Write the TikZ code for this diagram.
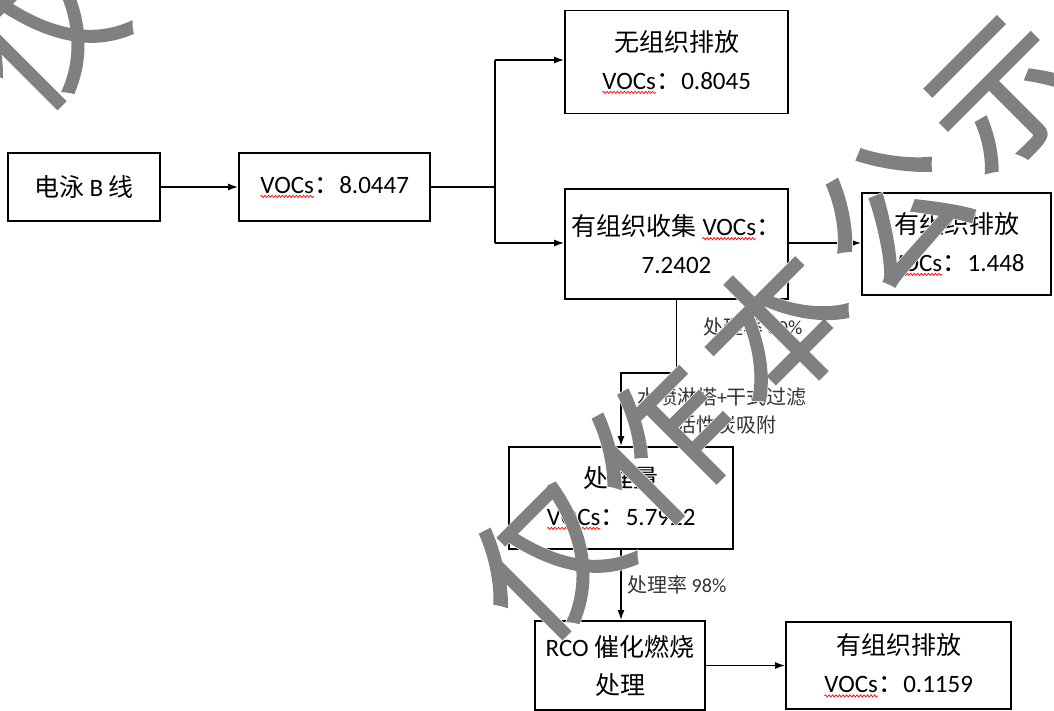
\documentclass[tikz,border=0pt]{standalone}
\usepackage{fontspec}
\setmainfont{Carlito}
\newfontfamily\cjk{Noto Sans CJK SC}
\newfontfamily\wmfont[FakeBold=1.5]{Noto Sans CJK SC}
\newfontfamily\wmhalo[FakeBold=2.4]{Noto Sans CJK SC}
\usetikzlibrary{arrows.meta,decorations.pathmorphing}
\newcommand\wavy[1]{\tikz[baseline=(w.base), x=1cm, y=1cm]{%
  \node[inner sep=0pt, outer sep=0pt, draw=none, minimum width=0pt, minimum height=0pt, rotate=0] (w) {#1};
  \draw[red, line width=0.7pt, -, decorate, decoration={snake, amplitude=1.1pt, segment length=3.5pt}]
    ([yshift=-3pt]w.south west) -- ([yshift=-3pt]w.south east);}}

\begin{document}
\begin{tikzpicture}[x=1pt,y=-1pt,
bx/.style={draw, line width=1.6pt, align=center, inner sep=0pt, font=\fontsize{25}{38}\selectfont},
lb/.style={text=black!80, align=center, inner sep=0pt, font=\fontsize{20}{28}\selectfont},
wm/.style={text=black!50, rotate=45, inner sep=0pt, font=\wmfont\fontsize{145}{145}\selectfont},
wmh/.style={wm, text=white, font=\wmhalo\fontsize{145}{145}\selectfont},
ar/.style={-{Latex[length=10pt,width=7pt]}, line width=1.6pt},
]
\useasboundingbox (0,0) rectangle (1054,711);
% boxes
\node[bx, minimum width=152, minimum height=68] (line) at (84,187) {{\cjk 电泳} B {\cjk 线}};
\node[bx, minimum width=191, minimum height=68] (voc) at (334.5,187) {\wavy{VOCs}{\cjk ：}8.0447};
\node[bx, minimum width=223, minimum height=103] (wzz) at (676.5,62) {{\cjk 无组织排放}\\\wavy{VOCs}{\cjk ：}0.8045};
\node[bx, minimum width=223, minimum height=110] (yzz) at (676.5,244) {{\cjk 有组织收集} \wavy{VOCs}{\cjk ：}\\7.2402};
\node[bx, minimum width=189, minimum height=102] (pf1) at (956.5,244) {{\cjk 有组织排放}\\\wavy{VOCs}{\cjk ：}1.448};
\node[bx, minimum width=224, minimum height=102] (clq) at (621,498) {{\cjk 处理量}\\\wavy{VOCs}{\cjk ：}5.7922};
\node[bx, minimum width=170, minimum height=89] (rco) at (620,665.5) {RCO {\cjk 催化燃烧}\\{\cjk 处理}};
\node[bx, minimum width=225, minimum height=87] (pf2) at (898.5,665.5) {{\cjk 有组织排放}\\\wavy{VOCs}{\cjk ：}0.1159};
% labels
\node[lb, anchor=west] (r80) at (703,327) {{\cjk 处理率} 80\%};
\node[lb] (gy) at (722,411) {{\cjk 水喷淋塔}+{\cjk 干式过滤}\\+{\cjk 活性炭吸附}};
\node[lb, anchor=west] (r98) at (627,585) {{\cjk 处理率} 98\%};
% connectors
\coordinate (jt) at (495,60);
\coordinate (jb) at (495,243);
\draw[ar] (line) -- (voc);
\draw[line width=1.6pt] (voc.east) -- (voc.east -| jt);
\draw[line width=1.6pt] (jt) -- (jb);
\draw[ar] (jt) -- (wzz.west |- jt);
\draw[ar] (jb) -- (yzz.west |- jb);
\draw[ar] (yzz.east |- jb) -- (pf1.west |- jb);
\draw[ar] (yzz.south) -- ++(0,73) -| (clq.north);
\draw[ar] (clq.south) -- (clq.south |- rco.north);
\draw[ar] (rco) -- (pf2);
% watermark
\foreach \dx/\dy in {0/0,-505/-530}
  \foreach \c [count=\i] in {仅,作,本,公,示} {
    \node[wmh] at ({434+114*\i+\dx},{676-116*\i+\dy}) {\c};
    \node[wm] at ({434+114*\i+\dx},{676-116*\i+\dy}) {\c};
  }
\end{tikzpicture}
\end{document}
